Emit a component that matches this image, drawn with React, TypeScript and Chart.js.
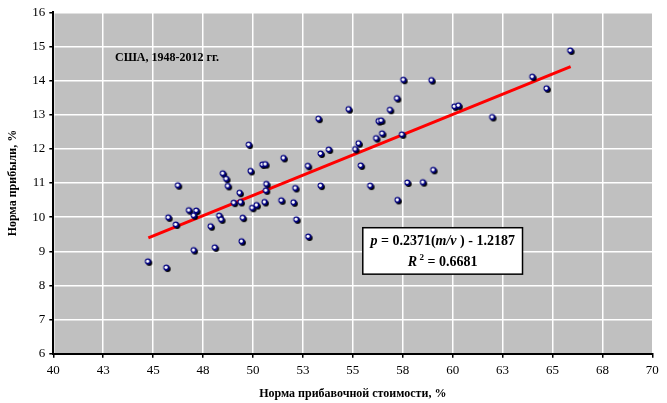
import React, { useEffect, useRef } from 'react';
import { Chart, registerables } from 'chart.js';

Chart.register(...registerables);

// Rate of surplus value, % (x) and rate of profit, % (y), USA 1948-2012
const xValues = [
  49.81, 46.26, 48.51, 48.68, 48.76, 50.49, 50.64, 51.55, 49.90, 53.41,
  53.82, 52.77, 52.14, 53.41, 50.69, 50.67, 49.35, 49.06, 49.40, 51.44,
  52.05, 50.60, 49.98, 50.20, 46.81, 47.18, 47.05, 45.78, 46.16, 48.33,
  48.43, 49.51, 52.19, 47.90, 52.79, 47.05, 48.11, 49.45, 44.76, 45.68,
  57.55, 58.96, 57.23, 54.81, 56.88, 60.11, 60.31, 62.00, 53.30, 56.31,
  56.44, 56.49, 57.48, 56.19, 55.31, 55.14, 55.42, 59.05, 55.89, 57.75,
  58.53, 57.26, 65.91, 64.01, 64.72,
];
const yValues = [
  12.11, 10.92, 11.27, 11.11, 10.90, 11.53, 11.54, 11.72, 11.34, 11.85,
  11.97, 11.49, 10.84, 10.91, 10.96, 10.77, 10.70, 10.41, 10.43, 10.48,
  10.42, 10.43, 10.26, 10.34, 10.19, 10.18, 10.04, 9.98, 9.77, 10.03,
  9.92, 9.97, 9.92, 9.72, 9.42, 9.02, 9.10, 9.28, 8.69, 8.51,
  14.01, 14.00, 13.47, 13.15, 13.13, 13.23, 13.26, 12.92, 12.87, 12.80,
  12.82, 12.44, 12.41, 12.30, 12.15, 11.98, 11.50, 11.37, 10.91, 11.00,
  11.01, 10.49, 14.87, 14.10, 13.76,
];
const xTickLabels = ['40', '43', '45', '48', '50', '53', '55', '58', '60', '63', '65', '68', '70'];

const trendSlope = 0.2371;
const trendIntercept = -1.2187;
const rSquared = '0.6681';

const xTitle = 'Норма прибавочной стоимости, %';
const yTitle = 'Норма прибыли, %';
const regionLabel = 'США, 1948-2012 гг.';

const SERIF = "'Liberation Serif', 'Times New Roman', serif";

function makeMarker(): HTMLCanvasElement {
  const c = document.createElement('canvas');
  c.width = 10;
  c.height = 10;
  const g = c.getContext('2d')!;
  g.fillStyle = '#000000';
  g.beginPath();
  g.arc(5.9, 6.0, 3.0, 0, Math.PI * 2);
  g.fill();
  g.fillStyle = '#000080';
  g.beginPath();
  g.arc(4.6, 4.6, 3.1, 0, Math.PI * 2);
  g.fill();
  g.fillStyle = '#ffffff';
  g.beginPath();
  g.arc(4.3, 4.3, 1.6, 0, Math.PI * 2);
  g.fill();
  return c;
}

type Seg = { t: string; it?: boolean; sup?: boolean };

function drawSegments(ctx: CanvasRenderingContext2D, segs: Seg[], cx: number, cy: number, size: number) {
  const fontFor = (s: Seg) =>
    `${s.it ? 'italic ' : ''}bold ${s.sup ? Math.round(size * 0.62) : size}px ${SERIF}`;
  let total = 0;
  const widths = segs.map((s) => {
    ctx.font = fontFor(s);
    const w = ctx.measureText(s.t).width;
    total += w;
    return w;
  });
  let x = cx - total / 2;
  ctx.textAlign = 'left';
  ctx.textBaseline = 'middle';
  segs.forEach((s, i) => {
    ctx.font = fontFor(s);
    ctx.fillText(s.t, x, s.sup ? cy - size * 0.38 : cy);
    x += widths[i];
  });
}

const plotDecor = {
  id: 'plotDecor',
  beforeDraw(chart: any) {
    const { ctx, chartArea } = chart;
    ctx.save();
    ctx.fillStyle = '#C0C0C0';
    ctx.fillRect(chartArea.left, chartArea.top, chartArea.right - chartArea.left, chartArea.bottom - chartArea.top);
    ctx.restore();
  },
  afterDraw(chart: any) {
    const { ctx } = chart;
    const xs = chart.scales.x;
    const ys = chart.scales.y;
    ctx.save();
    ctx.fillStyle = '#000';
    ctx.font = `bold 12px ${SERIF}`;
    ctx.textAlign = 'left';
    ctx.textBaseline = 'middle';
    ctx.fillText(regionLabel, xs.getPixelForValue(43.09), ys.getPixelForValue(14.67));

    const bx1 = xs.getPixelForValue(55.5);
    const bx2 = xs.getPixelForValue(63.5);
    const by1 = ys.getPixelForValue(9.69);
    const by2 = ys.getPixelForValue(8.33);
    ctx.fillStyle = '#ffffff';
    ctx.fillRect(bx1, by1, bx2 - bx1, by2 - by1);
    ctx.strokeStyle = '#000';
    ctx.lineWidth = 1.5;
    ctx.strokeRect(bx1, by1, bx2 - bx1, by2 - by1);
    ctx.fillStyle = '#000';
    const cx = (bx1 + bx2) / 2;
    const h = by2 - by1;
    drawSegments(
      ctx,
      [
        { t: 'p', it: true },
        { t: ' = ' + trendSlope.toFixed(4) + '(' },
        { t: 'm/v', it: true },
        { t: ' ) - ' + Math.abs(trendIntercept).toFixed(4) },
      ],
      cx,
      by1 + h * 0.30,
      14,
    );
    drawSegments(
      ctx,
      [
        { t: 'R', it: true },
        { t: ' 2', sup: true },
        { t: ' = ' + rSquared },
      ],
      cx,
      by1 + h * 0.75,
      14,
    );
    ctx.restore();
  },
};

export default function App() {
  const ref = useRef<HTMLCanvasElement | null>(null);

  useEffect(() => {
    if (!ref.current) return;
    const points = xValues.map((x, i) => ({ x, y: yValues[i] }));
    const xMin = Math.min(...xValues);
    const xMax = Math.max(...xValues);
    const trend = [
      { x: xMin, y: trendSlope * xMin + trendIntercept },
      { x: xMax, y: trendSlope * xMax + trendIntercept },
    ];
    const marker = makeMarker();

    const chart = new Chart(ref.current, {
      type: 'scatter',
      data: {
        datasets: [
          {
            label: 'data',
            data: points,
            pointStyle: marker as any,
            pointRadius: 4,
            pointHoverRadius: 4,
          },
          {
            type: 'line' as any,
            label: 'trend',
            data: trend,
            borderColor: '#FF0000',
            borderWidth: 3,
            pointRadius: 0,
            fill: false,
            showLine: true,
          } as any,
        ],
      },
      options: {
        animation: false,
        responsive: false,
        maintainAspectRatio: false,
        events: [],
        layout: { padding: { top: 12.3, right: 14.7, left: 0, bottom: 0 } },
        plugins: {
          legend: { display: false },
          tooltip: { enabled: false },
          title: { display: false },
        },
        scales: {
          x: {
            type: 'linear',
            min: 40,
            max: 70,
            afterFit: (s: any) => {
              s.height = 49.3;
            },
            ticks: {
              stepSize: 2.5,
              color: '#000',
              padding: 5,
              font: { family: SERIF, size: 13 },
              maxRotation: 0,
              autoSkip: false,
              callback: (_v: any, i: number) => xTickLabels[i],
            },
            grid: {
              color: '#ffffff',
              lineWidth: 1.5,
              tickColor: '#000',
              tickLength: 4,
              tickWidth: 1.5,
            },
            border: { color: '#000', width: 2 },
            title: {
              display: true,
              text: xTitle,
              color: '#000',
              font: { family: SERIF, size: 12, weight: 'bold' },
              padding: { top: 0, bottom: 2 },
            },
          },
          y: {
            type: 'linear',
            min: 6,
            max: 16,
            afterFit: (s: any) => {
              s.width = 53.3;
            },
            ticks: {
              stepSize: 1,
              color: '#000',
              padding: 4,
              font: { family: SERIF, size: 13 },
            },
            grid: {
              color: '#ffffff',
              lineWidth: 1.5,
              tickColor: '#000',
              tickLength: 4,
              tickWidth: 1.5,
            },
            border: { color: '#000', width: 2 },
            title: {
              display: true,
              text: yTitle,
              color: '#000',
              font: { family: SERIF, size: 12, weight: 'bold' },
              padding: { top: 6, bottom: 0 },
            },
          },
        },
      },
      plugins: [plotDecor],
    });
    return () => chart.destroy();
  }, []);

  return (
    <div style={{ position: 'absolute', left: 0, top: 0, width: 667, height: 403, background: '#fff' }}>
      <canvas ref={ref} width={667} height={403} style={{ display: 'block', width: 667, height: 403 }} />
    </div>
  );
}
